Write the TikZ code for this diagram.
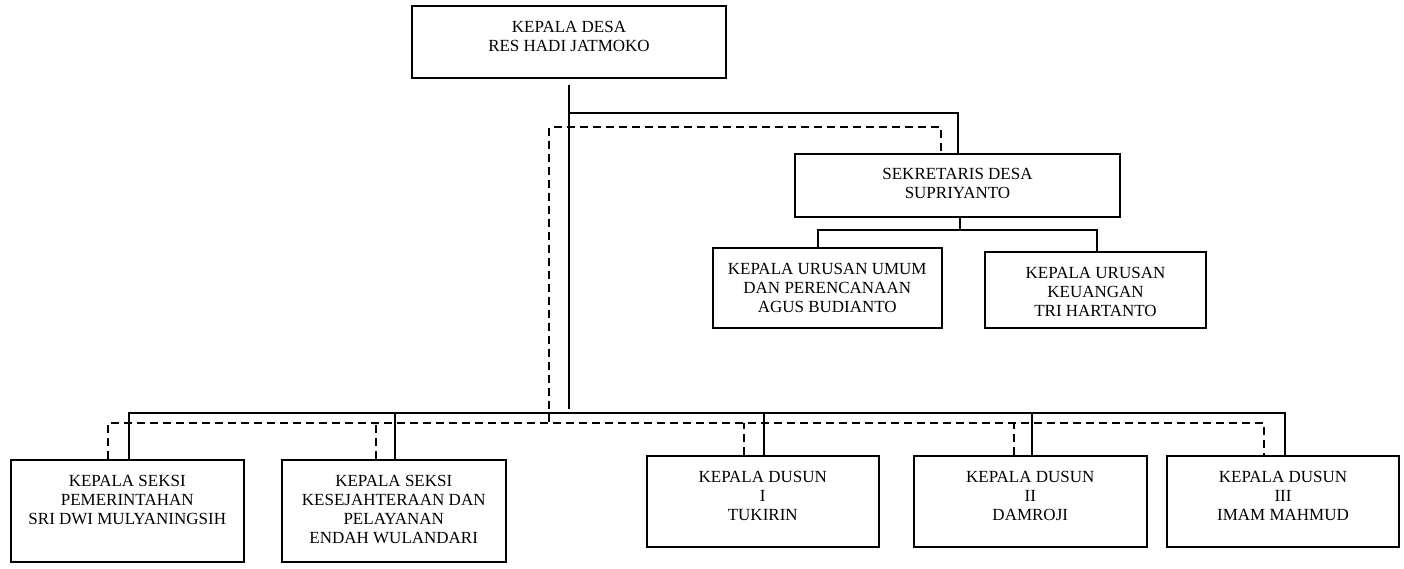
\documentclass[tikz,border=0pt]{standalone}
\usepackage{fontspec}
\setmainfont{Liberation Serif}
\usepackage{tikz}
\usetikzlibrary{positioning, calc}

\begin{document}
\begin{tikzpicture}[
        x=1pt, y=-1pt,
        unit/.style={rectangle, draw, line width=2pt, align=center, inner sep=0pt, anchor=north west, font=\fontsize{17}{19.3}\selectfont},
        two/.style={text height=45.3pt, text depth=#1},
        three/.style={text height=64.6pt, text depth=#1},
        four/.style={text height=83.9pt, text depth=#1},
        command/.style={line width=2pt, line join=miter},
        liaison/.style={line width=1.7pt, dash pattern=on 8pt off 5pt}
    ]
    \useasboundingbox (0,0) rectangle (1404,568);

    \node[unit, two=26.2pt, minimum width=314pt] (kades) at (411,5) {KEPALA DESA\\RES HADI JATMOKO};
    \node[unit, two=17.7pt, minimum width=325pt] (sekdes) at (794,152.5) {SEKRETARIS DESA\\SUPRIYANTO};
    \node[unit, three=15.4pt, minimum width=228.5pt] (umum) at (712,247) {KEPALA URUSAN UMUM\\DAN PERENCANAAN\\AGUS BUDIANTO};
    \node[unit, three=11.4pt, minimum width=221pt] (keu) at (984,251) {KEPALA URUSAN\\KEUANGAN\\TRI HARTANTO};

    \node[unit, three=36.9pt, minimum width=232.5pt] (pem) at (10,459) {KEPALA SEKSI\\PEMERINTAHAN\\SRI DWI MULYANINGSIH};
    \node[unit, four=17.6pt, minimum width=224.5pt] (kesra) at (280.5,459) {KEPALA SEKSI\\KESEJAHTERAAN DAN\\PELAYANAN\\ENDAH WULANDARI};
    \node[unit, three=25.9pt, minimum width=232.5pt] (dusun1) at (645.5,455) {KEPALA DUSUN\\I\\TUKIRIN};
    \node[unit, three=25.9pt, minimum width=233.5pt] (dusun2) at (912.5,455) {KEPALA DUSUN\\II\\DAMROJI};
    \node[unit, three=25.9pt, minimum width=232pt] (dusun3) at (1166,455) {KEPALA DUSUN\\III\\IMAM MAHMUD};

    \coordinate (sekbus) at (568,113);
    \coordinate (mainend) at (568,409);
    \coordinate (sbus) at (568,413);
    \coordinate (dtop) at (549,127);
    \coordinate (dbus) at (549,423);
    \coordinate (subbus) at (959,230);

    % garis komando
    \draw[command] ([yshift=-6pt]kades.south) -- (kades.south |- mainend);
    \draw[command] (sekbus) -| (sekdes.north);
    \draw[command] ([xshift=2.5pt]sekdes.south) -- ([xshift=2.5pt]sekdes.south |- subbus);
    \draw[command] ([xshift=-9.25pt]umum.north) |- ([xshift=1pt]keu.north |- subbus) -- ([xshift=1pt]keu.north);
    \draw[command] ([xshift=1.75pt]pem.north) |- ([xshift=2pt]dusun3.north |- sbus) -- ([xshift=2pt]dusun3.north);
    \foreach \b in {kesra, dusun1, dusun2} {
        \draw[command] ([xshift=1.5pt]\b.north) -- ([xshift=1.5pt]\b.north |- sbus);
    }

    % garis koordinasi
    \draw[liaison] ([xshift=-16.5pt,yshift=2pt]sekdes.north) |- (dtop) -- (dbus);
    \draw[liaison] ([xshift=-19.25pt]pem.north) |- ([xshift=-19pt]dusun3.north |- dbus) -- ([xshift=-19pt]dusun3.north);
    \foreach \b/\dx in {kesra/-17.75, dusun1/-18.75, dusun2/-16.25} {
        \draw[liaison] ([xshift=\dx pt]\b.north) -- ([xshift=\dx pt]\b.north |- dbus);
    }
\end{tikzpicture}
\end{document}
